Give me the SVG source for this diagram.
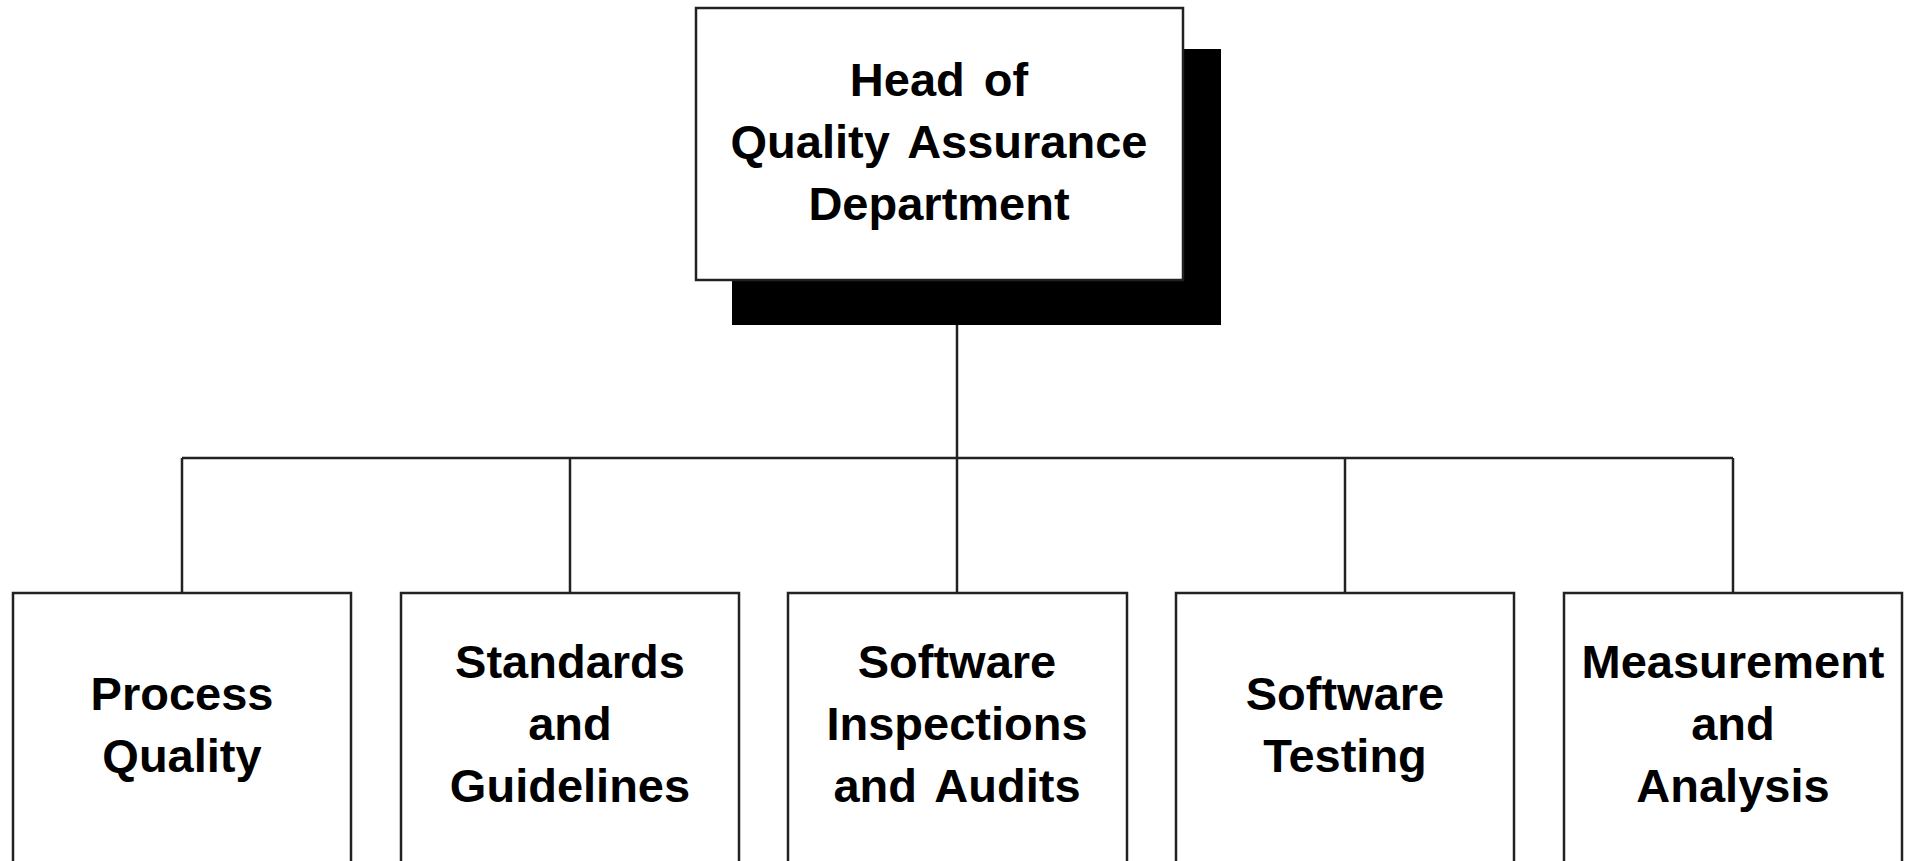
<svg xmlns="http://www.w3.org/2000/svg" width="1911" height="861" viewBox="0 0 1911 861">
<style>
.box{fill:#fff;stroke:#222;stroke-width:2.5}
.shadow{fill:#000}
.conn{stroke:#222;stroke-width:2.5;fill:none}
text{font-family:"Liberation Sans",Arial,sans-serif;font-weight:bold;font-size:47px;fill:#000;text-anchor:middle;word-spacing:6px}
</style>
<rect width="1911" height="861" fill="#fff"/>
<g id="connectors">
<line class="conn" x1="957" y1="324" x2="957" y2="458"/>
<line class="conn" x1="182" y1="458" x2="1733" y2="458"/>
<line class="conn" x1="182" y1="458" x2="182" y2="593"/>
<line class="conn" x1="570" y1="458" x2="570" y2="593"/>
<line class="conn" x1="957" y1="458" x2="957" y2="593"/>
<line class="conn" x1="1345" y1="458" x2="1345" y2="593"/>
<line class="conn" x1="1733" y1="458" x2="1733" y2="593"/>
</g>
<g id="head">
<rect class="shadow" x="732" y="49" width="489" height="276"/>
<rect class="box" x="696" y="8" width="487" height="272"/>
<text x="939" y="96">Head of</text>
<text x="939" y="158">Quality Assurance</text>
<text x="939" y="220">Department</text>
</g>
<g id="process-quality">
<rect class="box" x="13" y="593" width="338" height="290"/>
<text x="182" y="710">Process</text>
<text x="182" y="772">Quality</text>
</g>
<g id="standards">
<rect class="box" x="401" y="593" width="338" height="290"/>
<text x="570" y="678">Standards</text>
<text x="570" y="740">and</text>
<text x="570" y="802">Guidelines</text>
</g>
<g id="inspections">
<rect class="box" x="788" y="593" width="339" height="290"/>
<text x="957" y="678">Software</text>
<text x="957" y="740">Inspections</text>
<text x="957" y="802">and Audits</text>
</g>
<g id="testing">
<rect class="box" x="1176" y="593" width="338" height="290"/>
<text x="1345" y="710">Software</text>
<text x="1345" y="772">Testing</text>
</g>
<g id="measurement">
<rect class="box" x="1564" y="593" width="338" height="290"/>
<text x="1733" y="678">Measurement</text>
<text x="1733" y="740">and</text>
<text x="1733" y="802">Analysis</text>
</g>
</svg>
